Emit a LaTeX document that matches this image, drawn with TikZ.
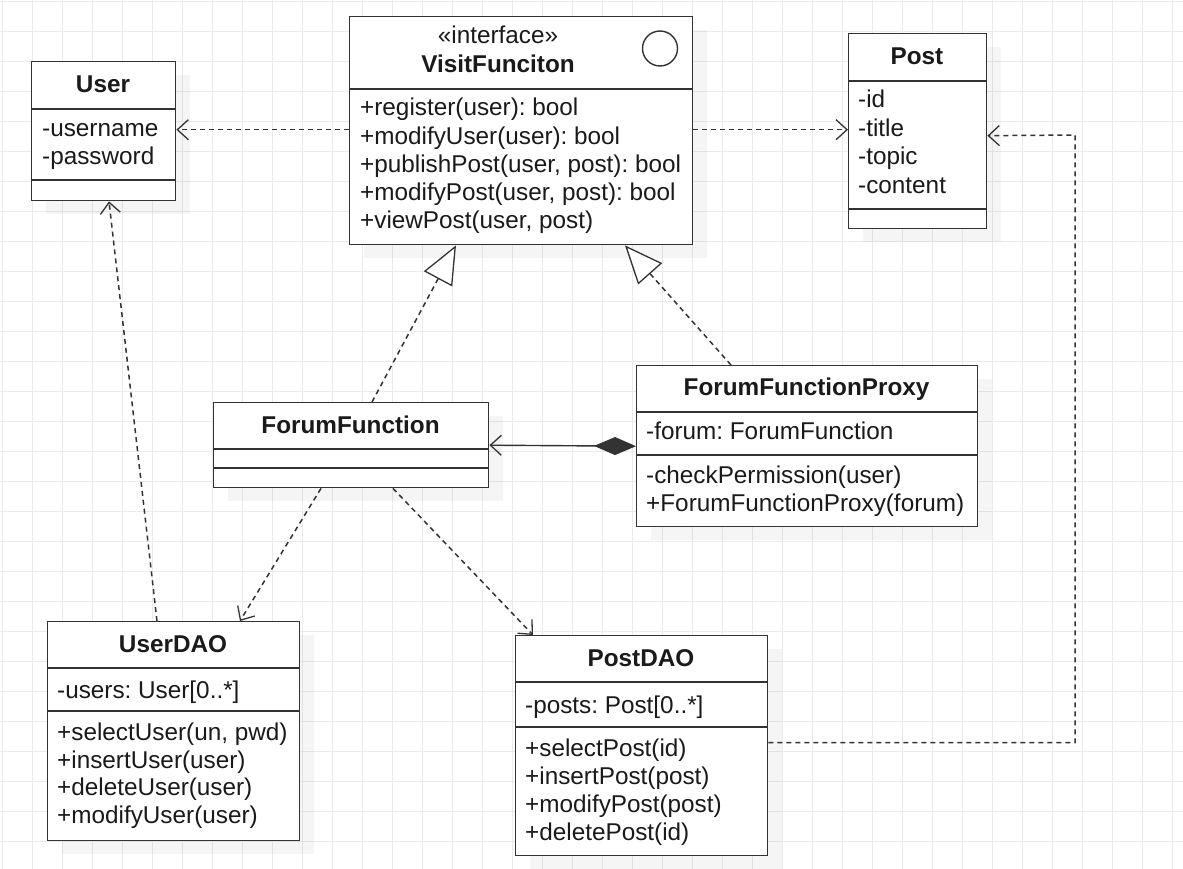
\documentclass[tikz,border=0pt]{standalone}
\usepackage{fontspec}
\setmainfont{Liberation Sans}
\usetikzlibrary{arrows.meta,shadows}
\definecolor{gridc}{HTML}{EBEBEB}
\definecolor{linec}{HTML}{333333}
\definecolor{textc}{HTML}{1A1A1A}
\frenchspacing
\begin{document}
\frenchspacing
\begin{tikzpicture}[x=1pt,y=-1pt,
  box/.style={draw=linec, line width=1.4pt, fill=white, inner sep=0pt, anchor=north west,
    drop shadow={shadow xshift=14pt, shadow yshift=-13pt, fill=black, opacity=0.04}},
  divider/.style={draw=linec, line width=1.4pt},
  txt/.style={anchor=base west, inner sep=0pt, text=textc, font=\fontsize{24.3}{28}\selectfont},
  ttl/.style={anchor=base, inner sep=0pt, text=textc, font=\fontsize{24.3}{28}\selectfont\bfseries},
  dep/.style={draw=linec, line width=1.5pt, dash pattern=on 5pt off 4pt,
    -{Straight Barb[length=11pt, width=20pt, line width=1.3pt]}},
  real/.style={draw=linec, line width=1.5pt, dash pattern=on 5pt off 4pt,
    -{Triangle[length=38pt, width=32pt, fill=white, line width=1.3pt]}},
  comp/.style={draw=linec, line width=1.4pt,
    {Diamond[length=42pt, width=18pt]}-{Straight Barb[length=11pt, width=20pt, line width=1.3pt]}}
]
\useasboundingbox (0,0) rectangle (1183,869);
\fill[white] (0,0) rectangle (1183,869);
% grid
\foreach \i in {0,...,39} {\draw[gridc, line width=1.5pt] (2.3+30*\i,0) -- (2.3+30*\i,869);}
\foreach \j in {0,...,28} {\draw[gridc, line width=1.5pt] (0,1.7+30*\j) -- (1183,1.7+30*\j);}

% ---- User
\node[box, minimum width=144pt, minimum height=139pt] (user) at (31,61) {};
\draw[divider] (31,109) -- (175,109);
\draw[divider] (31,180) -- (175,180);
\node[ttl] (usert) at (103,93) {User};
\node[txt] (user1) at (42,137) {-username};
\node[txt] (user2) at (42,165) {-password};

% ---- VisitFunciton
\node[box, minimum width=343pt, minimum height=228pt] (vf) at (349,16) {};
\draw[divider] (349,89) -- (692,89);
\node[ttl, font=\fontsize{24.3}{28}\selectfont] (vfs) at (498,44) {«interface»};
\node[ttl] (vft) at (498,73) {VisitFunciton};
\draw[linec, line width=1.4pt] (660,48.5) circle[radius=17.5];
\node[txt] (vf1) at (360,116) {+register(user): bool};
\node[txt] (vf2) at (360,144.2) {+modifyUser(user): bool};
\node[txt] (vf3) at (360,172.4) {+publishPost(user, post): bool};
\node[txt] (vf4) at (360,200.6) {+modifyPost(user, post): bool};
\node[txt] (vf5) at (360,228.6) {+viewPost(user, post)};

% ---- Post
\node[box, minimum width=138pt, minimum height=195pt] (post) at (848,33) {};
\draw[divider] (848,81) -- (986,81);
\draw[divider] (848,209) -- (986,209);
\node[ttl] (postt) at (917,65) {Post};
\node[txt] (post1) at (858,108) {-id};
\node[txt] (post2) at (858,136.5) {-title};
\node[txt] (post3) at (858,165) {-topic};
\node[txt] (post4) at (858,193.5) {-content};

% ---- ForumFunction
\node[box, minimum width=275pt, minimum height=85pt] (ff) at (213,402) {};
\draw[divider] (213,449) -- (488,449);
\draw[divider] (213,468) -- (488,468);
\node[ttl] (fft) at (350.5,433) {ForumFunction};

% ---- ForumFunctionProxy
\node[box, minimum width=341pt, minimum height=161pt] (proxy) at (636,365) {};
\draw[divider] (636,412) -- (977,412);
\draw[divider] (636,455) -- (977,455);
\node[ttl] (proxyt) at (806.5,395) {ForumFunctionProxy};
\node[txt] (proxy1) at (646,439) {-forum: ForumFunction};
\node[txt] (proxy2) at (646,483) {-checkPermission(user)};
\node[txt] (proxy3) at (646,511.5) {+ForumFunctionProxy(forum)};

% ---- UserDAO
\node[box, minimum width=252pt, minimum height=219pt] (udao) at (47,621) {};
\draw[divider] (47,668) -- (299,668);
\draw[divider] (47,711) -- (299,711);
\node[ttl] (udaot) at (173,652) {UserDAO};
\node[txt] (udao1) at (57,698) {-users: User[0..*]};
\node[txt] (udao2) at (57,740) {+selectUser(un, pwd)};
\node[txt] (udao3) at (57,768) {+insertUser(user)};
\node[txt] (udao4) at (57,795.5) {+deleteUser(user)};
\node[txt] (udao5) at (57,823.5) {+modifyUser(user)};

% ---- PostDAO
\node[box, minimum width=252pt, minimum height=220pt] (pdao) at (515,635) {};
\draw[divider] (515,682) -- (767,682);
\draw[divider] (515,727) -- (767,727);
\node[ttl] (pdaot) at (641,666) {PostDAO};
\node[txt] (pdao1) at (525,713) {-posts: Post[0..*]};
\node[txt] (pdao2) at (525,756.5) {+selectPost(id)};
\node[txt] (pdao3) at (525,784.5) {+insertPost(post)};
\node[txt] (pdao4) at (525,812.5) {+modifyPost(post)};
\node[txt] (pdao5) at (525,840.5) {+deletePost(id)};

% ---- connectors
\draw[dep] ([yshift=1pt]vf.west) -- ([yshift=1.5pt]user.east);
\draw[dep] ([yshift=1pt]vf.east) -- ([yshift=1.5pt]post.west);
\draw[real] ([xshift=159pt]ff.north west) -- ([xshift=107pt]vf.south west);
\draw[real] ([xshift=95pt]proxy.north west) -- ([xshift=276pt]vf.south west);
\draw[comp] (proxy.west) -- (ff.east);
\draw[dep] ([xshift=108pt]ff.south west) -- ([xshift=193pt]udao.north west);
\draw[dep] ([xshift=180pt]ff.south west) -- ([xshift=18pt]pdao.north west);
\draw[dep] ([xshift=110pt]udao.north west) -- ([xshift=78pt]user.south west);
\coordinate (bend) at (1075,135);
\draw[dep] ([yshift=3pt]pdao.east) -| (bend) -- ([yshift=-4.5pt]post.east);
\end{tikzpicture}
\end{document}
